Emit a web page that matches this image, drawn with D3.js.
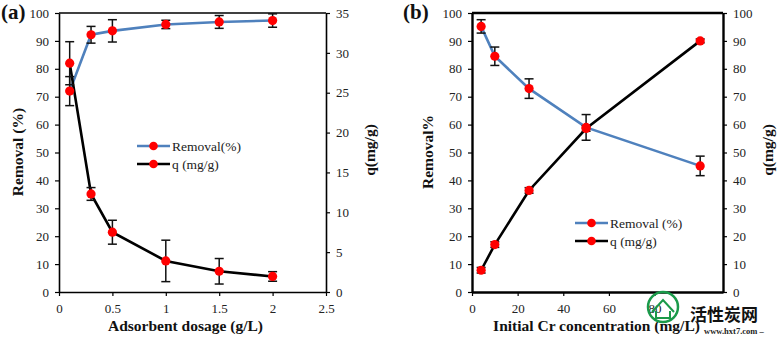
<!DOCTYPE html>
<html><head><meta charset="utf-8">
<script src="https://cdn.jsdelivr.net/npm/d3@7"></script>
<style>body{margin:0;background:#fff}svg{display:block}</style>
</head><body><svg id="c" width="777" height="337" style="font-family:'Liberation Serif'"></svg>
<script>
// Panel (a)
const dosage = [0.1, 0.3, 0.5, 1, 1.5, 2];
const removalA = [72, 92.2, 93.6, 95.9, 96.8, 97.3];
const removalAErr = [5.2, 3, 4, 1.5, 2.3, 2.4];
const qA = [28.7, 12.3, 7.5, 3.9, 2.6, 1.95];
const qAErr = [2.7, 0.8, 1.5, 2.6, 1.6, 0.6];
const xTicksA = [0, 0.5, 1, 1.5, 2, 2.5];
const yTicksLeft = [0, 10, 20, 30, 40, 50, 60, 70, 80, 90, 100];
const yTicksRightA = [0, 5, 10, 15, 20, 25, 30, 35];
// Panel (b)
const concentration = [4, 10, 25, 50, 100];
const removalB = [95.2, 84.5, 72.9, 59, 45.2];
const removalBErr = [2.4, 3.3, 3.5, 4.6, 3.5];
const qB = [7.8, 17, 36.4, 58.6, 90];
const qBErr = [1, 1, 1, 1, 0.7];
const xTicksB = [0, 20, 40, 60, 80];
const yTicksRightB = [0, 10, 20, 30, 40, 50, 60, 70, 80, 90, 100];

const SERIF = "'Liberation Serif', 'Times New Roman', serif";
const svg = d3.select("#c");
const BLUE = "#4f81bd", RED = "#ff0000";

function panel(o) {
  const g = svg.append("g");
  const x = d3.scaleLinear().domain(o.xDomain).range([o.left, o.right]);
  const yL = d3.scaleLinear().domain([0, 100]).range([o.bottom, o.top]);
  const yR = d3.scaleLinear().domain(o.yRDomain).range([o.bottom, o.top]);

  const styleAxis = (sel) => {
    sel.attr("font-family", null);
    sel.selectAll("path").attr("stroke", "#000").attr("stroke-width", o.frame);
    sel.selectAll("line").attr("stroke", "#000").attr("stroke-width", 1.2);
    sel.selectAll("text").attr("font-size", 13).attr("fill", "#222").style("font-family", SERIF);
  };
  g.append("g").attr("transform", `translate(0,${o.bottom})`)
    .call(d3.axisBottom(x).tickValues(o.xTicks).tickSize(4).tickSizeOuter(0).tickPadding(8)
      .tickFormat(d => String(d)))
    .call(styleAxis);
  g.append("g").attr("transform", `translate(${o.left},0)`)
    .call(d3.axisLeft(yL).tickValues(yTicksLeft).tickSize(4).tickSizeOuter(0).tickPadding(6))
    .call(styleAxis);
  g.append("g").attr("transform", `translate(${o.right},0)`)
    .call(d3.axisRight(yR).tickValues(o.yRTicks).tickSize(4).tickSizeOuter(0).tickPadding(6))
    .call(styleAxis);
  g.append("line").attr("x1", o.left).attr("x2", o.right).attr("y1", o.top).attr("y2", o.top)
    .attr("stroke", "#000").attr("stroke-width", o.frame);

  const lr = d3.line().x((d, i) => x(o.xs[i])).y(d => yL(d));
  const lq = d3.line().x((d, i) => x(o.xs[i])).y(d => yR(d));
  g.append("path").datum(o.rem).attr("d", lr).attr("fill", "none").attr("stroke", BLUE).attr("stroke-width", 2.6);
  g.append("path").datum(o.q).attr("d", lq).attr("fill", "none").attr("stroke", "#000").attr("stroke-width", 2.6);

  const eb = (vals, errs, sc) => {
    vals.forEach((v, i) => {
      const cx = x(o.xs[i]), y1 = sc(v - errs[i]), y2 = sc(v + errs[i]);
      g.append("line").attr("x1", cx).attr("x2", cx).attr("y1", y1).attr("y2", y2).attr("stroke", "#111").attr("stroke-width", 1.5);
      [y1, y2].forEach(yy => g.append("line").attr("x1", cx - 4.5).attr("x2", cx + 4.5).attr("y1", yy).attr("y2", yy).attr("stroke", "#111").attr("stroke-width", 1.5));
    });
  };
  eb(o.rem, o.remErr, yL);
  eb(o.q, o.qErr, yR);

  g.selectAll(null).data(o.rem).join("circle").attr("cx", (d, i) => x(o.xs[i])).attr("cy", d => yL(d)).attr("r", 4.6).attr("fill", RED);
  g.selectAll(null).data(o.q).join("circle").attr("cx", (d, i) => x(o.xs[i])).attr("cy", d => yR(d)).attr("r", 4.6).attr("fill", RED);

  const T = (sel) => sel.style("font-family", SERIF);
  g.append("text").attr("x", (o.left + o.right) / 2 + o.xTitleDx).attr("y", 331).attr("text-anchor", "middle")
    .attr("font-size", 15.5).attr("font-weight", "bold").attr("fill", "#111").call(T).text(o.xTitle);
  g.append("text").attr("transform", `translate(${o.yLTitleX},${152}) rotate(-90)`).attr("text-anchor", "middle")
    .attr("font-size", 15.5).attr("font-weight", "bold").attr("fill", "#111").call(T).text(o.yLTitle);
  g.append("text").attr("transform", `translate(${o.yRTitleX},${150}) rotate(-90)`).attr("text-anchor", "middle")
    .attr("font-size", 15.5).attr("font-weight", "bold").attr("fill", "#111").call(T).text("q(mg/g)");
  g.append("text").attr("x", o.labelX).attr("y", 19).attr("font-size", 21).attr("font-weight", "bold").attr("fill", "#111").call(T).text(o.label);

  const items = [[o.legRem, BLUE], ["q (mg/g)", "#000"]];
  items.forEach((it, i) => {
    const yy = o.legY + i * 18;
    g.append("line").attr("x1", o.legX).attr("x2", o.legX + 33).attr("y1", yy).attr("y2", yy).attr("stroke", it[1]).attr("stroke-width", 2.6);
    g.append("circle").attr("cx", o.legX + 16.5).attr("cy", yy).attr("r", 4.3).attr("fill", RED);
    g.append("text").attr("x", o.legX + 35).attr("y", yy + 4.5).attr("font-size", 13.5).attr("fill", "#222").call(T).text(it[0]);
  });
}

panel({left: 59, right: 326, top: 13, bottom: 292, frame: 1.6,
  xDomain: [0, 2.5], xTicks: xTicksA, yRDomain: [0, 35], yRTicks: yTicksRightA,
  xs: dosage, rem: removalA, remErr: removalAErr, q: qA, qErr: qAErr,
  xTitle: "Adsorbent dosage (g/L)", xTitleDx: -7, yLTitle: "Removal (%)", yLTitleX: 23, yRTitleX: 375,
  label: "(a)", labelX: 1, legRem: "Removal(%)", legX: 137, legY: 146});

panel({left: 472, right: 723, top: 13, bottom: 292, frame: 2.4,
  xDomain: [0, 110], xTicks: xTicksB, yRDomain: [0, 100], yRTicks: yTicksRightB,
  xs: concentration, rem: removalB, remErr: removalBErr, q: qB, qErr: qBErr,
  xTitle: "Initial Cr concentration (mg/L)", xTitleDx: -1, yLTitle: "Removal%", yLTitleX: 433, yRTitleX: 773,
  label: "(b)", labelX: 403, legRem: "Removal (%)", legX: 575, legY: 223});

// watermark
const wm = svg.append("g");
wm.append("circle").attr("cx", 663).attr("cy", 307).attr("r", 15).attr("fill", "none").attr("stroke", "#1a9a4a").attr("stroke-width", 2.5);
wm.append("path").attr("d", "M652,312 L663,300 L674,312 M656,311 V318 H670 V311").attr("fill", "none").attr("stroke", "#1a9a4a").attr("stroke-width", 2);
wm.append("text").attr("x", 690).attr("y", 321).style("font-family", '"Noto Sans CJK SC", sans-serif').attr("font-weight", "bold")
  .attr("font-size", 17).attr("fill", "#111").text("活性炭网");
wm.append("text").attr("x", 704).attr("y", 334).attr("font-size", 8.5).attr("font-weight", "bold").attr("fill", "#222")
  .style("font-family", SERIF).text("www.hxt7.com –");
</script></body></html>
